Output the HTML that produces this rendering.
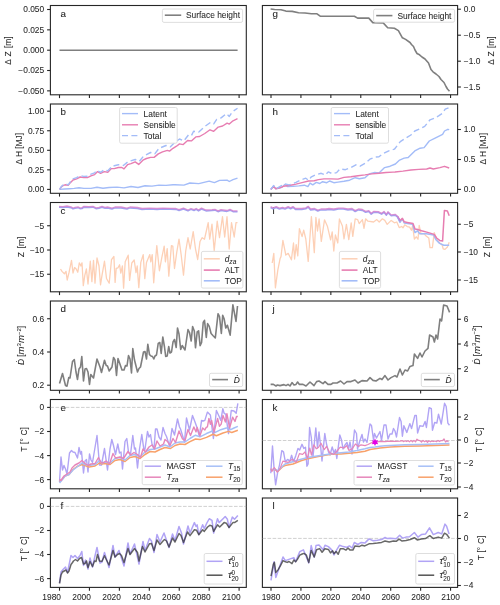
<!DOCTYPE html>
<html><head><meta charset="utf-8"><style>
html,body{margin:0;padding:0;background:#fff;width:500px;height:605px;overflow:hidden}
svg{display:block;will-change:transform}
.t{font-family:"Liberation Sans",sans-serif;font-size:8.4px;fill:#262626;stroke:#262626;stroke-width:0.06px}
.lt{font-family:"Liberation Sans",sans-serif;font-size:9.8px;fill:#262626;stroke:#262626;stroke-width:0.08px}
</style></head><body>
<svg width="500" height="605" viewBox="0 0 500 605">
<rect width="500" height="605" fill="#fff"/>
<rect x="50.4" y="5.5" width="195.90" height="89.30" fill="none" stroke="#262626" stroke-width="1.1"/>
<rect x="262.4" y="5.5" width="195.20" height="89.30" fill="none" stroke="#262626" stroke-width="1.1"/>
<line x1="59.50" y1="94.80" x2="59.50" y2="98.10" stroke="#262626" stroke-width="1.1"/>
<line x1="89.43" y1="94.80" x2="89.43" y2="98.10" stroke="#262626" stroke-width="1.1"/>
<line x1="119.37" y1="94.80" x2="119.37" y2="98.10" stroke="#262626" stroke-width="1.1"/>
<line x1="149.30" y1="94.80" x2="149.30" y2="98.10" stroke="#262626" stroke-width="1.1"/>
<line x1="179.24" y1="94.80" x2="179.24" y2="98.10" stroke="#262626" stroke-width="1.1"/>
<line x1="209.17" y1="94.80" x2="209.17" y2="98.10" stroke="#262626" stroke-width="1.1"/>
<line x1="239.10" y1="94.80" x2="239.10" y2="98.10" stroke="#262626" stroke-width="1.1"/>
<line x1="271.00" y1="94.80" x2="271.00" y2="98.10" stroke="#262626" stroke-width="1.1"/>
<line x1="300.93" y1="94.80" x2="300.93" y2="98.10" stroke="#262626" stroke-width="1.1"/>
<line x1="330.85" y1="94.80" x2="330.85" y2="98.10" stroke="#262626" stroke-width="1.1"/>
<line x1="360.78" y1="94.80" x2="360.78" y2="98.10" stroke="#262626" stroke-width="1.1"/>
<line x1="390.70" y1="94.80" x2="390.70" y2="98.10" stroke="#262626" stroke-width="1.1"/>
<line x1="420.63" y1="94.80" x2="420.63" y2="98.10" stroke="#262626" stroke-width="1.1"/>
<line x1="450.56" y1="94.80" x2="450.56" y2="98.10" stroke="#262626" stroke-width="1.1"/>
<rect x="50.4" y="104.0" width="195.90" height="89.30" fill="none" stroke="#262626" stroke-width="1.1"/>
<rect x="262.4" y="104.0" width="195.20" height="89.30" fill="none" stroke="#262626" stroke-width="1.1"/>
<line x1="59.50" y1="193.30" x2="59.50" y2="196.60" stroke="#262626" stroke-width="1.1"/>
<line x1="89.43" y1="193.30" x2="89.43" y2="196.60" stroke="#262626" stroke-width="1.1"/>
<line x1="119.37" y1="193.30" x2="119.37" y2="196.60" stroke="#262626" stroke-width="1.1"/>
<line x1="149.30" y1="193.30" x2="149.30" y2="196.60" stroke="#262626" stroke-width="1.1"/>
<line x1="179.24" y1="193.30" x2="179.24" y2="196.60" stroke="#262626" stroke-width="1.1"/>
<line x1="209.17" y1="193.30" x2="209.17" y2="196.60" stroke="#262626" stroke-width="1.1"/>
<line x1="239.10" y1="193.30" x2="239.10" y2="196.60" stroke="#262626" stroke-width="1.1"/>
<line x1="271.00" y1="193.30" x2="271.00" y2="196.60" stroke="#262626" stroke-width="1.1"/>
<line x1="300.93" y1="193.30" x2="300.93" y2="196.60" stroke="#262626" stroke-width="1.1"/>
<line x1="330.85" y1="193.30" x2="330.85" y2="196.60" stroke="#262626" stroke-width="1.1"/>
<line x1="360.78" y1="193.30" x2="360.78" y2="196.60" stroke="#262626" stroke-width="1.1"/>
<line x1="390.70" y1="193.30" x2="390.70" y2="196.60" stroke="#262626" stroke-width="1.1"/>
<line x1="420.63" y1="193.30" x2="420.63" y2="196.60" stroke="#262626" stroke-width="1.1"/>
<line x1="450.56" y1="193.30" x2="450.56" y2="196.60" stroke="#262626" stroke-width="1.1"/>
<rect x="50.4" y="202.5" width="195.90" height="89.30" fill="none" stroke="#262626" stroke-width="1.1"/>
<rect x="262.4" y="202.5" width="195.20" height="89.30" fill="none" stroke="#262626" stroke-width="1.1"/>
<line x1="59.50" y1="291.80" x2="59.50" y2="295.10" stroke="#262626" stroke-width="1.1"/>
<line x1="89.43" y1="291.80" x2="89.43" y2="295.10" stroke="#262626" stroke-width="1.1"/>
<line x1="119.37" y1="291.80" x2="119.37" y2="295.10" stroke="#262626" stroke-width="1.1"/>
<line x1="149.30" y1="291.80" x2="149.30" y2="295.10" stroke="#262626" stroke-width="1.1"/>
<line x1="179.24" y1="291.80" x2="179.24" y2="295.10" stroke="#262626" stroke-width="1.1"/>
<line x1="209.17" y1="291.80" x2="209.17" y2="295.10" stroke="#262626" stroke-width="1.1"/>
<line x1="239.10" y1="291.80" x2="239.10" y2="295.10" stroke="#262626" stroke-width="1.1"/>
<line x1="271.00" y1="291.80" x2="271.00" y2="295.10" stroke="#262626" stroke-width="1.1"/>
<line x1="300.93" y1="291.80" x2="300.93" y2="295.10" stroke="#262626" stroke-width="1.1"/>
<line x1="330.85" y1="291.80" x2="330.85" y2="295.10" stroke="#262626" stroke-width="1.1"/>
<line x1="360.78" y1="291.80" x2="360.78" y2="295.10" stroke="#262626" stroke-width="1.1"/>
<line x1="390.70" y1="291.80" x2="390.70" y2="295.10" stroke="#262626" stroke-width="1.1"/>
<line x1="420.63" y1="291.80" x2="420.63" y2="295.10" stroke="#262626" stroke-width="1.1"/>
<line x1="450.56" y1="291.80" x2="450.56" y2="295.10" stroke="#262626" stroke-width="1.1"/>
<rect x="50.4" y="301.0" width="195.90" height="89.30" fill="none" stroke="#262626" stroke-width="1.1"/>
<rect x="262.4" y="301.0" width="195.20" height="89.30" fill="none" stroke="#262626" stroke-width="1.1"/>
<line x1="59.50" y1="390.30" x2="59.50" y2="393.60" stroke="#262626" stroke-width="1.1"/>
<line x1="89.43" y1="390.30" x2="89.43" y2="393.60" stroke="#262626" stroke-width="1.1"/>
<line x1="119.37" y1="390.30" x2="119.37" y2="393.60" stroke="#262626" stroke-width="1.1"/>
<line x1="149.30" y1="390.30" x2="149.30" y2="393.60" stroke="#262626" stroke-width="1.1"/>
<line x1="179.24" y1="390.30" x2="179.24" y2="393.60" stroke="#262626" stroke-width="1.1"/>
<line x1="209.17" y1="390.30" x2="209.17" y2="393.60" stroke="#262626" stroke-width="1.1"/>
<line x1="239.10" y1="390.30" x2="239.10" y2="393.60" stroke="#262626" stroke-width="1.1"/>
<line x1="271.00" y1="390.30" x2="271.00" y2="393.60" stroke="#262626" stroke-width="1.1"/>
<line x1="300.93" y1="390.30" x2="300.93" y2="393.60" stroke="#262626" stroke-width="1.1"/>
<line x1="330.85" y1="390.30" x2="330.85" y2="393.60" stroke="#262626" stroke-width="1.1"/>
<line x1="360.78" y1="390.30" x2="360.78" y2="393.60" stroke="#262626" stroke-width="1.1"/>
<line x1="390.70" y1="390.30" x2="390.70" y2="393.60" stroke="#262626" stroke-width="1.1"/>
<line x1="420.63" y1="390.30" x2="420.63" y2="393.60" stroke="#262626" stroke-width="1.1"/>
<line x1="450.56" y1="390.30" x2="450.56" y2="393.60" stroke="#262626" stroke-width="1.1"/>
<rect x="50.4" y="399.5" width="195.90" height="89.30" fill="none" stroke="#262626" stroke-width="1.1"/>
<rect x="262.4" y="399.5" width="195.20" height="89.30" fill="none" stroke="#262626" stroke-width="1.1"/>
<line x1="59.50" y1="488.80" x2="59.50" y2="492.10" stroke="#262626" stroke-width="1.1"/>
<line x1="89.43" y1="488.80" x2="89.43" y2="492.10" stroke="#262626" stroke-width="1.1"/>
<line x1="119.37" y1="488.80" x2="119.37" y2="492.10" stroke="#262626" stroke-width="1.1"/>
<line x1="149.30" y1="488.80" x2="149.30" y2="492.10" stroke="#262626" stroke-width="1.1"/>
<line x1="179.24" y1="488.80" x2="179.24" y2="492.10" stroke="#262626" stroke-width="1.1"/>
<line x1="209.17" y1="488.80" x2="209.17" y2="492.10" stroke="#262626" stroke-width="1.1"/>
<line x1="239.10" y1="488.80" x2="239.10" y2="492.10" stroke="#262626" stroke-width="1.1"/>
<line x1="271.00" y1="488.80" x2="271.00" y2="492.10" stroke="#262626" stroke-width="1.1"/>
<line x1="300.93" y1="488.80" x2="300.93" y2="492.10" stroke="#262626" stroke-width="1.1"/>
<line x1="330.85" y1="488.80" x2="330.85" y2="492.10" stroke="#262626" stroke-width="1.1"/>
<line x1="360.78" y1="488.80" x2="360.78" y2="492.10" stroke="#262626" stroke-width="1.1"/>
<line x1="390.70" y1="488.80" x2="390.70" y2="492.10" stroke="#262626" stroke-width="1.1"/>
<line x1="420.63" y1="488.80" x2="420.63" y2="492.10" stroke="#262626" stroke-width="1.1"/>
<line x1="450.56" y1="488.80" x2="450.56" y2="492.10" stroke="#262626" stroke-width="1.1"/>
<rect x="50.4" y="498.0" width="195.90" height="89.40" fill="none" stroke="#262626" stroke-width="1.1"/>
<rect x="262.4" y="498.0" width="195.20" height="89.40" fill="none" stroke="#262626" stroke-width="1.1"/>
<line x1="59.50" y1="587.40" x2="59.50" y2="590.70" stroke="#262626" stroke-width="1.1"/>
<text x="61.00" y="600" text-anchor="end" class="t">1980</text>
<line x1="89.43" y1="587.40" x2="89.43" y2="590.70" stroke="#262626" stroke-width="1.1"/>
<text x="90.93" y="600" text-anchor="end" class="t">2000</text>
<line x1="119.37" y1="587.40" x2="119.37" y2="590.70" stroke="#262626" stroke-width="1.1"/>
<text x="120.87" y="600" text-anchor="end" class="t">2020</text>
<line x1="149.30" y1="587.40" x2="149.30" y2="590.70" stroke="#262626" stroke-width="1.1"/>
<text x="150.80" y="600" text-anchor="end" class="t">2040</text>
<line x1="179.24" y1="587.40" x2="179.24" y2="590.70" stroke="#262626" stroke-width="1.1"/>
<text x="180.74" y="600" text-anchor="end" class="t">2060</text>
<line x1="209.17" y1="587.40" x2="209.17" y2="590.70" stroke="#262626" stroke-width="1.1"/>
<text x="210.67" y="600" text-anchor="end" class="t">2080</text>
<line x1="239.10" y1="587.40" x2="239.10" y2="590.70" stroke="#262626" stroke-width="1.1"/>
<text x="240.60" y="600" text-anchor="end" class="t">2100</text>
<line x1="271.00" y1="587.40" x2="271.00" y2="590.70" stroke="#262626" stroke-width="1.1"/>
<text x="271.00" y="600" text-anchor="middle" class="t">1980</text>
<line x1="300.93" y1="587.40" x2="300.93" y2="590.70" stroke="#262626" stroke-width="1.1"/>
<text x="300.93" y="600" text-anchor="middle" class="t">2000</text>
<line x1="330.85" y1="587.40" x2="330.85" y2="590.70" stroke="#262626" stroke-width="1.1"/>
<text x="330.85" y="600" text-anchor="middle" class="t">2020</text>
<line x1="360.78" y1="587.40" x2="360.78" y2="590.70" stroke="#262626" stroke-width="1.1"/>
<text x="360.78" y="600" text-anchor="middle" class="t">2040</text>
<line x1="390.70" y1="587.40" x2="390.70" y2="590.70" stroke="#262626" stroke-width="1.1"/>
<text x="390.70" y="600" text-anchor="middle" class="t">2060</text>
<line x1="420.63" y1="587.40" x2="420.63" y2="590.70" stroke="#262626" stroke-width="1.1"/>
<text x="420.63" y="600" text-anchor="middle" class="t">2080</text>
<line x1="450.56" y1="587.40" x2="450.56" y2="590.70" stroke="#262626" stroke-width="1.1"/>
<text x="450.56" y="600" text-anchor="middle" class="t">2100</text>
<line x1="47.10" y1="9.50" x2="50.40" y2="9.50" stroke="#262626" stroke-width="1.1"/>
<text x="44.20" y="12.40" text-anchor="end" class="t">0.050</text>
<line x1="47.10" y1="29.85" x2="50.40" y2="29.85" stroke="#262626" stroke-width="1.1"/>
<text x="44.20" y="32.75" text-anchor="end" class="t">0.025</text>
<line x1="47.10" y1="50.20" x2="50.40" y2="50.20" stroke="#262626" stroke-width="1.1"/>
<text x="44.20" y="53.10" text-anchor="end" class="t">0.000</text>
<line x1="47.10" y1="70.50" x2="50.40" y2="70.50" stroke="#262626" stroke-width="1.1"/>
<text x="44.20" y="73.40" text-anchor="end" class="t">−0.025</text>
<line x1="47.10" y1="90.85" x2="50.40" y2="90.85" stroke="#262626" stroke-width="1.1"/>
<text x="44.20" y="93.75" text-anchor="end" class="t">−0.050</text>
<line x1="457.60" y1="9.20" x2="460.90" y2="9.20" stroke="#262626" stroke-width="1.1"/>
<text x="463.80" y="12.10" text-anchor="start" class="t">0.0</text>
<line x1="457.60" y1="35.20" x2="460.90" y2="35.20" stroke="#262626" stroke-width="1.1"/>
<text x="463.80" y="38.10" text-anchor="start" class="t">−0.5</text>
<line x1="457.60" y1="61.20" x2="460.90" y2="61.20" stroke="#262626" stroke-width="1.1"/>
<text x="463.80" y="64.10" text-anchor="start" class="t">−1.0</text>
<line x1="457.60" y1="87.00" x2="460.90" y2="87.00" stroke="#262626" stroke-width="1.1"/>
<text x="463.80" y="89.90" text-anchor="start" class="t">−1.5</text>
<line x1="47.10" y1="111.20" x2="50.40" y2="111.20" stroke="#262626" stroke-width="1.1"/>
<text x="44.20" y="114.10" text-anchor="end" class="t">1.00</text>
<line x1="47.10" y1="130.75" x2="50.40" y2="130.75" stroke="#262626" stroke-width="1.1"/>
<text x="44.20" y="133.65" text-anchor="end" class="t">0.75</text>
<line x1="47.10" y1="150.30" x2="50.40" y2="150.30" stroke="#262626" stroke-width="1.1"/>
<text x="44.20" y="153.20" text-anchor="end" class="t">0.50</text>
<line x1="47.10" y1="169.85" x2="50.40" y2="169.85" stroke="#262626" stroke-width="1.1"/>
<text x="44.20" y="172.75" text-anchor="end" class="t">0.25</text>
<line x1="47.10" y1="189.40" x2="50.40" y2="189.40" stroke="#262626" stroke-width="1.1"/>
<text x="44.20" y="192.30" text-anchor="end" class="t">0.00</text>
<line x1="457.60" y1="129.50" x2="460.90" y2="129.50" stroke="#262626" stroke-width="1.1"/>
<text x="463.80" y="132.40" text-anchor="start" class="t">1.0</text>
<line x1="457.60" y1="159.50" x2="460.90" y2="159.50" stroke="#262626" stroke-width="1.1"/>
<text x="463.80" y="162.40" text-anchor="start" class="t">0.5</text>
<line x1="457.60" y1="189.40" x2="460.90" y2="189.40" stroke="#262626" stroke-width="1.1"/>
<text x="463.80" y="192.30" text-anchor="start" class="t">0.0</text>
<line x1="47.10" y1="225.75" x2="50.40" y2="225.75" stroke="#262626" stroke-width="1.1"/>
<text x="44.20" y="228.65" text-anchor="end" class="t">−5</text>
<line x1="47.10" y1="250.00" x2="50.40" y2="250.00" stroke="#262626" stroke-width="1.1"/>
<text x="44.20" y="252.90" text-anchor="end" class="t">−10</text>
<line x1="47.10" y1="274.25" x2="50.40" y2="274.25" stroke="#262626" stroke-width="1.1"/>
<text x="44.20" y="277.15" text-anchor="end" class="t">−15</text>
<line x1="457.60" y1="224.25" x2="460.90" y2="224.25" stroke="#262626" stroke-width="1.1"/>
<text x="463.80" y="227.15" text-anchor="start" class="t">−5</text>
<line x1="457.60" y1="252.00" x2="460.90" y2="252.00" stroke="#262626" stroke-width="1.1"/>
<text x="463.80" y="254.90" text-anchor="start" class="t">−10</text>
<line x1="457.60" y1="280.00" x2="460.90" y2="280.00" stroke="#262626" stroke-width="1.1"/>
<text x="463.80" y="282.90" text-anchor="start" class="t">−15</text>
<line x1="47.10" y1="318.75" x2="50.40" y2="318.75" stroke="#262626" stroke-width="1.1"/>
<text x="44.20" y="321.65" text-anchor="end" class="t">0.6</text>
<line x1="47.10" y1="352.00" x2="50.40" y2="352.00" stroke="#262626" stroke-width="1.1"/>
<text x="44.20" y="354.90" text-anchor="end" class="t">0.4</text>
<line x1="47.10" y1="385.20" x2="50.40" y2="385.20" stroke="#262626" stroke-width="1.1"/>
<text x="44.20" y="388.10" text-anchor="end" class="t">0.2</text>
<line x1="457.60" y1="319.25" x2="460.90" y2="319.25" stroke="#262626" stroke-width="1.1"/>
<text x="463.80" y="322.15" text-anchor="start" class="t">6</text>
<line x1="457.60" y1="344.00" x2="460.90" y2="344.00" stroke="#262626" stroke-width="1.1"/>
<text x="463.80" y="346.90" text-anchor="start" class="t">4</text>
<line x1="457.60" y1="368.75" x2="460.90" y2="368.75" stroke="#262626" stroke-width="1.1"/>
<text x="463.80" y="371.65" text-anchor="start" class="t">2</text>
<line x1="47.10" y1="407.40" x2="50.40" y2="407.40" stroke="#262626" stroke-width="1.1"/>
<text x="44.20" y="410.30" text-anchor="end" class="t">0</text>
<line x1="47.10" y1="431.50" x2="50.40" y2="431.50" stroke="#262626" stroke-width="1.1"/>
<text x="44.20" y="434.40" text-anchor="end" class="t">−2</text>
<line x1="47.10" y1="455.60" x2="50.40" y2="455.60" stroke="#262626" stroke-width="1.1"/>
<text x="44.20" y="458.50" text-anchor="end" class="t">−4</text>
<line x1="47.10" y1="479.60" x2="50.40" y2="479.60" stroke="#262626" stroke-width="1.1"/>
<text x="44.20" y="482.50" text-anchor="end" class="t">−6</text>
<line x1="457.60" y1="417.00" x2="460.90" y2="417.00" stroke="#262626" stroke-width="1.1"/>
<text x="463.80" y="419.90" text-anchor="start" class="t">2</text>
<line x1="457.60" y1="440.00" x2="460.90" y2="440.00" stroke="#262626" stroke-width="1.1"/>
<text x="463.80" y="442.90" text-anchor="start" class="t">0</text>
<line x1="457.60" y1="463.00" x2="460.90" y2="463.00" stroke="#262626" stroke-width="1.1"/>
<text x="463.80" y="465.90" text-anchor="start" class="t">−2</text>
<line x1="457.60" y1="487.00" x2="460.90" y2="487.00" stroke="#262626" stroke-width="1.1"/>
<text x="463.80" y="489.90" text-anchor="start" class="t">−4</text>
<line x1="47.10" y1="506.40" x2="50.40" y2="506.40" stroke="#262626" stroke-width="1.1"/>
<text x="44.20" y="509.30" text-anchor="end" class="t">0</text>
<line x1="47.10" y1="530.50" x2="50.40" y2="530.50" stroke="#262626" stroke-width="1.1"/>
<text x="44.20" y="533.40" text-anchor="end" class="t">−2</text>
<line x1="47.10" y1="554.50" x2="50.40" y2="554.50" stroke="#262626" stroke-width="1.1"/>
<text x="44.20" y="557.40" text-anchor="end" class="t">−4</text>
<line x1="47.10" y1="578.60" x2="50.40" y2="578.60" stroke="#262626" stroke-width="1.1"/>
<text x="44.20" y="581.50" text-anchor="end" class="t">−6</text>
<line x1="457.60" y1="515.50" x2="460.90" y2="515.50" stroke="#262626" stroke-width="1.1"/>
<text x="463.80" y="518.40" text-anchor="start" class="t">2</text>
<line x1="457.60" y1="538.50" x2="460.90" y2="538.50" stroke="#262626" stroke-width="1.1"/>
<text x="463.80" y="541.40" text-anchor="start" class="t">0</text>
<line x1="457.60" y1="562.50" x2="460.90" y2="562.50" stroke="#262626" stroke-width="1.1"/>
<text x="463.80" y="565.40" text-anchor="start" class="t">−2</text>
<line x1="457.60" y1="585.50" x2="460.90" y2="585.50" stroke="#262626" stroke-width="1.1"/>
<text x="463.80" y="588.40" text-anchor="start" class="t">−4</text>
<text transform="translate(10.60,50.60) rotate(-90)" text-anchor="middle" class="t" word-spacing="1.0">Δ Z [m]</text>
<text transform="translate(22.00,148.75) rotate(-90)" text-anchor="middle" class="t">Δ H [MJ]</text>
<text transform="translate(23.50,247.00) rotate(-90)" text-anchor="middle" class="t" word-spacing="1.6">Z [m]</text>
<text transform="translate(24.10,345.50) rotate(-90)" text-anchor="middle" class="t"><tspan font-style="italic">Ḋ</tspan> [<tspan font-style="italic" font-size="9.6">m</tspan><tspan font-size="6" dy="-3.4">3</tspan><tspan dy="3.4" font-style="italic" font-size="9.6">m</tspan><tspan font-size="6" dy="-3.4">−2</tspan><tspan dy="3.4">]</tspan></text>
<text transform="translate(27.00,439.40) rotate(-90)" text-anchor="middle" class="t" word-spacing="0.5">T [° C]</text>
<text transform="translate(27.00,549.00) rotate(-90)" text-anchor="middle" class="t" word-spacing="0.5">T [° C]</text>
<text transform="translate(494.40,50.60) rotate(-90)" text-anchor="middle" class="t" word-spacing="1.0">Δ Z [m]</text>
<text transform="translate(486.00,148.75) rotate(-90)" text-anchor="middle" class="t">Δ H [MJ]</text>
<text transform="translate(490.00,247.00) rotate(-90)" text-anchor="middle" class="t" word-spacing="1.6">Z [m]</text>
<text transform="translate(479.50,345.00) rotate(-90)" text-anchor="middle" class="t"><tspan font-style="italic">Ḋ</tspan> [<tspan font-style="italic" font-size="9.6">m</tspan><tspan font-size="6" dy="-3.4">3</tspan><tspan dy="3.4" font-style="italic" font-size="9.6">m</tspan><tspan font-size="6" dy="-3.4">−2</tspan><tspan dy="3.4">]</tspan></text>
<text transform="translate(482.30,440.00) rotate(-90)" text-anchor="middle" class="t" word-spacing="0.5">T [° C]</text>
<text transform="translate(484.20,548.00) rotate(-90)" text-anchor="middle" class="t" word-spacing="0.5">T [° C]</text>
<text x="60.60" y="16.90" class="lt">a</text>
<text x="60.60" y="115.40" class="lt">b</text>
<text x="60.60" y="213.90" class="lt">c</text>
<text x="60.60" y="312.40" class="lt">d</text>
<text x="60.60" y="410.90" class="lt">e</text>
<text x="60.60" y="509.40" class="lt">f</text>
<text x="272.60" y="16.90" class="lt">g</text>
<text x="272.60" y="115.40" class="lt">h</text>
<text x="272.60" y="213.90" class="lt">i</text>
<text x="272.60" y="312.40" class="lt">j</text>
<text x="272.60" y="410.90" class="lt">k</text>
<text x="272.60" y="509.40" class="lt">l</text>
<polyline points="59.50,50.20 237.60,50.20" fill="none" stroke="#7f7f7f" stroke-width="1.6" stroke-linejoin="round" stroke-linecap="butt"/>
<rect x="162.40" y="9.00" width="80.20" height="13.40" rx="1.6" ry="1.6" fill="#fff" fill-opacity="0.8" stroke="#dadada" stroke-width="0.9"/>
<line x1="164.80" y1="15.20" x2="181.20" y2="15.20" stroke="#7f7f7f" stroke-width="1.6"/>
<text x="186.00" y="18.10" class="t">Surface height</text>
<polyline points="270.60,9.00 274.60,9.50 281.00,9.80 285.80,11.10 292.20,11.40 298.60,12.70 305.00,13.00 311.40,13.80 317.00,13.80 320.20,16.20 354.40,16.20 357.60,18.10 368.80,18.10 372.80,22.60 383.20,22.90 387.70,27.70 394.40,28.20 398.40,30.60 402.40,37.80 405.60,39.40 410.00,42.50 411.50,44.50 413.50,46.50 415.00,50.00 417.00,53.50 419.50,54.80 422.00,57.00 425.00,59.00 428.50,63.00 431.00,69.50 433.00,71.80 436.00,74.00 439.00,76.50 441.00,79.50 444.00,82.50 446.00,86.50 447.50,89.00 449.50,91.20" fill="none" stroke="#7f7f7f" stroke-width="1.6" stroke-linejoin="round" stroke-linecap="butt"/>
<rect x="373.60" y="9.20" width="81.00" height="13.00" rx="1.6" ry="1.6" fill="#fff" fill-opacity="0.8" stroke="#dadada" stroke-width="0.9"/>
<line x1="376.20" y1="15.60" x2="392.40" y2="15.60" stroke="#7f7f7f" stroke-width="1.6"/>
<text x="397.40" y="18.50" class="t">Surface height</text>
<polyline points="59.60,189.40 64.60,189.00 69.40,188.70 74.20,188.40 79.00,187.80 83.80,188.40 91.00,188.40 97.00,187.20 103.00,188.20 109.00,187.50 117.00,187.10 124.00,187.90 131.00,186.50 138.00,187.50 145.00,185.70 152.00,186.10 159.00,185.10 166.00,185.40 173.00,184.70 175.00,184.80 183.90,185.10 189.90,183.00 198.80,183.60 209.20,181.10 214.40,182.60 219.60,180.40 227.10,180.10 229.30,181.50 233.00,179.60 237.50,178.10" fill="none" stroke="#a3bcf8" stroke-width="1.4" stroke-linejoin="round" stroke-linecap="butt"/>
<polyline points="59.60,189.40 61.60,186.60 63.40,185.40 65.80,184.80 68.20,185.40 70.60,182.40 73.00,180.00 76.60,178.80 80.20,177.00 83.80,177.60 87.40,177.60 91.00,175.80 94.60,174.60 97.60,171.60 100.60,173.40 104.20,171.60 107.80,172.20 111.40,168.60 114.20,168.60 118.40,167.50 121.90,167.50 124.00,168.90 127.50,164.70 131.00,163.70 135.20,161.90 138.70,164.40 142.90,160.20 146.40,158.50 150.60,157.40 154.10,157.40 158.30,153.90 162.50,151.80 167.40,150.40 169.50,151.10 173.00,148.30 176.50,146.20 179.50,143.90 183.20,144.60 187.60,140.50 191.40,140.90 195.80,136.90 199.60,136.50 204.80,133.50 210.00,129.80 213.70,131.30 218.20,127.10 222.60,126.00 227.10,123.10 229.30,124.10 233.00,120.80 237.50,118.60" fill="none" stroke="#e77db1" stroke-width="1.4" stroke-linejoin="round" stroke-linecap="butt"/>
<polyline points="59.60,189.40 61.60,186.20 63.40,184.80 65.80,183.80 68.20,184.80 70.60,181.40 73.00,178.80 76.60,177.60 80.20,175.60 83.80,176.40 87.40,176.20 91.00,174.20 94.60,172.80 97.00,170.40 100.60,172.40 104.20,169.80 107.80,170.80 112.60,165.60 114.20,165.80 118.40,164.70 123.30,165.50 128.20,161.60 135.20,159.50 139.40,161.30 143.60,156.00 150.60,152.50 154.80,153.90 159.00,148.30 166.00,145.50 170.20,146.90 174.40,142.70 179.50,139.00 183.90,140.90 188.40,135.00 191.40,135.70 193.60,131.30 198.80,132.00 204.80,126.50 210.70,122.30 213.70,123.80 216.70,119.30 221.10,117.90 226.30,113.70 229.30,116.40 232.30,111.90 237.50,108.20" fill="none" stroke="#a3bcf8" stroke-width="1.4" stroke-linejoin="round" stroke-linecap="butt" stroke-dasharray="6,3.4"/>
<rect x="119.60" y="107.50" width="57.60" height="35.70" rx="1.6" ry="1.6" fill="#fff" fill-opacity="0.8" stroke="#dadada" stroke-width="0.9"/>
<line x1="122.00" y1="113.60" x2="138.00" y2="113.60" stroke="#a3bcf8" stroke-width="1.4"/>
<text x="143.60" y="116.50" class="t">Latent</text>
<line x1="122.00" y1="124.80" x2="138.00" y2="124.80" stroke="#e77db1" stroke-width="1.4"/>
<text x="143.60" y="127.70" class="t">Sensible</text>
<line x1="122.00" y1="135.60" x2="138.00" y2="135.60" stroke="#a3bcf8" stroke-width="1.4" stroke-dasharray="6,3.4"/>
<text x="143.60" y="138.50" class="t">Total</text>
<polyline points="270.80,189.40 273.60,185.90 275.70,188.70 282.00,187.30 284.80,184.50 287.60,186.60 293.20,186.30 298.80,185.90 304.40,185.20 307.90,186.60 310.00,183.10 312.80,184.90 316.30,182.40 319.80,183.50 322.60,181.70 326.80,182.70 329.60,181.00 333.80,182.70 338.00,182.10 344.00,181.30 349.60,180.20 355.20,177.70 359.40,178.80 365.00,177.70 369.20,173.90 374.80,172.50 379.00,172.90 384.60,167.60 390.20,166.20 395.40,164.00 399.60,160.10 404.20,158.10 408.20,157.50 414.80,150.90 420.10,148.20 424.10,147.60 429.30,141.00 434.60,138.30 438.60,136.30 442.60,134.30 444.50,131.00 447.80,129.30 449.20,129.70" fill="none" stroke="#a3bcf8" stroke-width="1.4" stroke-linejoin="round" stroke-linecap="butt"/>
<polyline points="270.80,189.40 273.60,186.60 275.70,188.70 279.20,188.00 283.40,186.30 289.00,185.50 296.00,184.10 303.00,182.40 308.60,181.00 314.20,180.70 318.40,179.60 324.00,178.90 331.00,178.90 338.00,179.10 344.00,177.40 351.00,176.70 358.00,175.70 365.00,174.90 372.00,173.90 379.00,173.20 386.00,172.50 393.00,172.10 395.00,172.00 402.90,171.10 410.90,170.00 418.80,169.40 426.70,169.00 430.00,168.00 433.30,169.00 439.90,167.60 444.50,166.30 449.20,168.00" fill="none" stroke="#e77db1" stroke-width="1.4" stroke-linejoin="round" stroke-linecap="butt"/>
<polyline points="270.80,189.40 273.60,185.60 276.40,188.70 282.00,185.20 284.80,183.80 289.00,184.90 296.00,182.40 301.60,179.60 305.80,178.20 308.60,180.30 311.40,176.80 315.60,174.70 321.20,173.30 325.40,175.10 328.20,171.90 332.40,173.70 336.60,172.60 339.80,169.00 345.40,169.70 351.00,167.60 355.90,164.80 360.10,166.20 365.00,163.40 369.90,159.20 374.80,157.10 379.00,156.70 383.20,153.60 388.80,150.80 394.40,149.20 400.30,141.60 405.60,138.30 410.90,135.00 414.80,131.00 419.40,129.10 424.70,126.40 430.00,119.80 434.60,118.20 438.60,115.90 442.60,113.20 445.20,109.20 448.50,107.90" fill="none" stroke="#a3bcf8" stroke-width="1.4" stroke-linejoin="round" stroke-linecap="butt" stroke-dasharray="6,3.4"/>
<rect x="331.20" y="107.50" width="57.30" height="35.70" rx="1.6" ry="1.6" fill="#fff" fill-opacity="0.8" stroke="#dadada" stroke-width="0.9"/>
<line x1="334.00" y1="113.60" x2="350.00" y2="113.60" stroke="#a3bcf8" stroke-width="1.4"/>
<text x="355.50" y="116.50" class="t">Latent</text>
<line x1="334.00" y1="124.80" x2="350.00" y2="124.80" stroke="#e77db1" stroke-width="1.4"/>
<text x="355.50" y="127.70" class="t">sensible</text>
<line x1="334.00" y1="135.60" x2="350.00" y2="135.60" stroke="#a3bcf8" stroke-width="1.4" stroke-dasharray="6,3.4"/>
<text x="355.50" y="138.50" class="t">Total</text>
<polyline points="60.50,269.00 62.00,271.40 64.40,273.80 66.00,271.40 67.20,280.00 69.10,272.20 71.50,260.40 73.00,273.00 74.60,267.50 76.20,269.00 77.80,272.20 79.30,262.80 80.90,266.00 82.00,262.80 83.30,285.60 84.80,275.40 86.40,269.00 88.00,284.00 90.30,261.20 91.90,281.60 93.50,260.40 95.00,283.20 97.00,258.00 99.00,266.00 100.50,284.80 102.00,275.40 104.50,261.20 106.50,278.50 109.20,283.20 111.50,259.70 113.90,256.50 115.10,282.40 116.20,268.40 118.00,267.80 119.60,264.80 120.80,273.20 122.40,266.00 123.60,288.20 125.20,261.80 128.20,255.20 129.60,280.40 131.80,263.00 134.20,260.00 136.00,272.60 137.20,266.00 138.80,287.60 140.80,262.40 143.20,254.60 144.80,278.60 146.50,262.40 149.80,254.60 150.80,261.80 152.20,254.60 153.70,282.80 156.80,245.60 159.40,270.80 161.80,257.60 164.20,246.20 165.40,261.80 167.20,248.60 168.80,276.20 171.40,245.60 172.80,246.00 174.50,268.50 176.70,252.70 179.00,239.20 181.20,255.00 183.50,275.20 185.70,251.20 188.00,237.70 190.20,249.00 193.20,231.70 195.50,249.00 197.70,259.50 200.00,241.50 202.20,237.70 204.50,239.20 206.00,232.50 208.20,222.70 209.70,239.20 212.00,224.20 214.20,250.50 217.20,221.20 219.50,237.70 222.50,216.70 224.70,237.00 227.00,216.70 229.20,249.00 231.50,222.70 234.20,237.00 236.00,222.70 237.50,222.70" fill="none" stroke="#fdd0b6" stroke-width="1.3" stroke-linejoin="round" stroke-linecap="butt"/>
<polyline points="59.00,207.20 63.00,207.50 67.00,206.90 71.00,207.70 73.00,208.90 75.00,208.20 78.00,207.70 80.00,208.70 82.00,208.50 84.00,207.20 89.00,207.50 93.00,207.20 96.00,208.70 99.00,208.20 102.00,207.20 105.00,208.20 107.50,207.90 112.00,209.00 115.00,207.90 121.00,207.90 127.00,209.00 130.00,207.90 137.50,208.40 142.00,209.40 149.50,209.00 157.00,209.40 163.00,209.00 170.50,209.20 176.00,209.40 179.00,210.50 183.50,209.00 188.00,210.90 191.00,209.40 194.00,210.50 196.20,209.40 198.50,210.90 201.50,209.00 206.00,210.90 212.00,210.50 215.00,210.20 218.00,211.70 221.00,210.50 227.00,211.40 230.00,210.20 233.00,211.70 237.50,211.70" fill="none" stroke="#9fa4f2" stroke-width="1.5" stroke-linejoin="round" stroke-linecap="butt"/>
<polyline points="59.00,206.30 63.00,206.60 67.00,206.00 71.00,206.80 73.00,208.00 75.00,207.30 78.00,206.80 80.00,207.80 82.00,207.60 84.00,206.30 89.00,206.60 93.00,206.30 96.00,207.80 99.00,207.30 102.00,206.30 105.00,207.30 107.50,207.00 112.00,208.10 115.00,207.00 121.00,207.00 127.00,208.10 130.00,207.00 137.50,207.50 142.00,208.50 149.50,208.10 157.00,208.50 163.00,208.10 170.50,208.30 176.00,208.50 179.00,209.60 183.50,208.10 188.00,210.00 191.00,208.50 194.00,209.60 196.20,208.50 198.50,210.00 201.50,208.10 206.00,210.00 212.00,209.60 215.00,209.30 218.00,210.80 221.00,209.60 227.00,210.50 230.00,209.30 233.00,210.80 237.50,210.80" fill="none" stroke="#d47ccc" stroke-width="1.3" stroke-linejoin="round" stroke-linecap="butt" stroke-opacity="0.8"/>
<rect x="201.40" y="251.40" width="41.50" height="36.70" rx="1.6" ry="1.6" fill="#fff" fill-opacity="0.8" stroke="#dadada" stroke-width="0.9"/>
<line x1="203.80" y1="258.80" x2="219.80" y2="258.80" stroke="#fdd0b6" stroke-width="1.5"/>
<text x="224.70" y="261.70" class="t"><tspan font-style="italic">d</tspan><tspan font-style="italic" font-size="6.6" dy="2">za</tspan></text>
<line x1="203.80" y1="270.10" x2="219.80" y2="270.10" stroke="#e77db1" stroke-width="1.6"/>
<text x="224.70" y="273.00" class="t">ALT</text>
<line x1="203.80" y1="280.80" x2="219.80" y2="280.80" stroke="#a3bcf8" stroke-width="1.6"/>
<text x="224.70" y="283.70" class="t">TOP</text>
<polyline points="272.20,263.00 273.80,253.40 275.40,287.80 277.80,270.20 280.20,258.20 281.00,256.60 282.90,240.30 285.80,255.00 288.20,253.40 291.40,259.80 293.50,243.00 294.60,259.00 296.20,244.60 297.80,255.80 299.40,228.60 302.10,236.60 303.70,230.20 305.80,239.00 308.20,261.40 311.40,216.60 314.30,252.60 315.90,217.40 317.50,231.00 319.10,219.00 321.30,241.40 324.50,219.80 327.40,226.20 330.60,239.80 332.20,231.80 333.80,251.00 335.40,235.00 337.80,243.00 339.40,219.00 342.40,226.00 344.00,238.80 346.40,224.40 348.80,239.60 351.20,222.80 352.80,236.40 355.20,218.80 357.60,219.60 359.20,223.60 362.40,219.60 364.00,228.40 365.60,218.80 368.00,221.20 373.60,222.00 376.80,219.60 379.20,222.00 382.40,218.80 384.80,220.40 387.20,224.40 391.20,220.40 394.40,222.80 396.80,222.00 399.20,227.60 401.60,226.50 403.00,227.80 404.80,224.80 407.20,226.60 409.60,227.20 411.40,230.20 412.60,226.00 414.40,239.20 416.20,236.80 418.00,239.20 419.20,225.40 421.00,233.80 424.00,233.80 426.40,236.20 428.80,238.00 430.00,247.60 432.40,247.60 434.20,232.60 437.20,240.40 440.20,243.40 442.00,244.60 443.20,248.80 445.00,249.40 447.40,247.00 449.20,242.20" fill="none" stroke="#fdd0b6" stroke-width="1.3" stroke-linejoin="round" stroke-linecap="butt"/>
<polyline points="397.60,217.10 400.00,222.40 402.40,218.80 404.20,223.00 412.60,224.20 415.00,232.60 417.40,230.80 419.80,233.80 426.40,233.80 433.60,235.00 436.00,239.80 439.60,243.40 443.80,245.20 449.20,245.20" fill="none" stroke="#a3bcf8" stroke-width="1.5" stroke-linejoin="round" stroke-linecap="butt"/>
<polyline points="397.60,216.40 400.00,220.60 402.40,218.40 404.20,221.80 407.20,222.40 413.00,223.60 415.00,229.00 418.00,229.60 421.60,230.80 427.60,232.40 434.20,234.40 436.60,238.00 439.60,240.40 442.60,241.00 444.40,210.40 447.40,211.00 449.20,215.80" fill="none" stroke="#e77db1" stroke-width="1.5" stroke-linejoin="round" stroke-linecap="butt"/>
<polyline points="270.60,207.50 273.00,208.80 276.20,207.50 279.40,209.10 282.60,208.30 285.00,209.10 288.20,207.50 290.60,208.80 293.00,207.50 295.40,209.40 301.80,209.40 305.80,208.80 308.20,207.20 310.60,209.90 314.60,209.40 317.80,211.00 321.00,209.90 325.80,209.90 329.00,209.40 333.80,209.90 338.60,209.10 343.20,209.10 348.00,209.90 352.00,209.40 355.20,211.50 358.40,209.90 362.40,210.40 365.60,212.30 368.80,211.50 371.20,214.20 373.60,212.30 378.40,212.60 381.60,214.20 384.00,212.30 386.40,215.20 388.00,212.60 391.20,215.80 395.20,215.20 397.60,217.10 400.00,221.30" fill="none" stroke="#9fa4f2" stroke-width="1.5" stroke-linejoin="round" stroke-linecap="butt"/>
<polyline points="270.60,206.60 273.00,207.90 276.20,206.60 279.40,208.20 282.60,207.40 285.00,208.20 288.20,206.60 290.60,207.90 293.00,206.60 295.40,208.50 301.80,208.50 305.80,207.90 308.20,206.30 310.60,209.00 314.60,208.50 317.80,210.10 321.00,209.00 325.80,209.00 329.00,208.50 333.80,209.00 338.60,208.20 343.20,208.20 348.00,209.00 352.00,208.50 355.20,210.60 358.40,209.00 362.40,209.50 365.60,211.40 368.80,210.60 371.20,213.30 373.60,211.40 378.40,211.70 381.60,213.30 384.00,211.40 386.40,214.30 388.00,211.70 391.20,214.90 395.20,214.30 397.60,216.20 400.00,220.40" fill="none" stroke="#d47ccc" stroke-width="1.3" stroke-linejoin="round" stroke-linecap="butt" stroke-opacity="0.8"/>
<rect x="339.40" y="251.40" width="41.20" height="36.70" rx="1.6" ry="1.6" fill="#fff" fill-opacity="0.8" stroke="#dadada" stroke-width="0.9"/>
<line x1="341.60" y1="258.80" x2="357.50" y2="258.80" stroke="#fdd0b6" stroke-width="1.5"/>
<text x="362.80" y="261.70" class="t"><tspan font-style="italic">d</tspan><tspan font-style="italic" font-size="6.6" dy="2">za</tspan></text>
<line x1="341.60" y1="270.10" x2="357.50" y2="270.10" stroke="#e77db1" stroke-width="1.6"/>
<text x="362.80" y="273.00" class="t">ALT</text>
<line x1="341.60" y1="280.80" x2="357.50" y2="280.80" stroke="#a3bcf8" stroke-width="1.6"/>
<text x="362.80" y="283.70" class="t">TOP</text>
<polyline points="59.50,383.50 62.50,373.50 65.50,385.50 67.00,386.20 68.80,377.50 70.00,378.00 72.50,361.50 74.30,359.50 76.00,372.00 77.50,379.50 79.00,369.00 80.50,367.00 81.80,356.50 83.50,381.00 85.00,369.00 86.50,368.50 88.00,372.00 89.50,384.50 90.80,374.50 93.50,378.00 97.00,359.00 100.00,367.00 101.50,372.50 104.50,360.20 106.20,365.50 107.50,366.00 109.20,371.00 112.00,367.00 113.50,357.50 115.00,360.00 116.50,375.50 118.00,358.50 122.00,370.00 124.00,370.00 125.50,365.50 127.00,366.00 128.50,355.50 130.00,359.00 131.50,373.00 132.80,348.50 134.50,360.00 137.50,372.00 139.00,368.50 140.50,367.00 143.50,352.00 145.00,351.50 146.50,359.00 147.80,344.20 149.50,354.70 151.00,356.00 152.50,356.50 153.80,359.00 155.00,356.00 156.50,355.00 158.20,343.50 159.80,342.50 161.20,353.50 162.80,337.00 164.50,347.00 165.70,356.50 167.20,356.00 168.70,346.50 170.00,353.00 171.50,352.00 173.00,342.00 174.50,339.50 176.20,347.50 177.50,328.00 179.00,334.00 180.70,349.50 182.20,345.50 185.00,350.00 188.00,329.50 189.50,332.50 191.20,341.00 192.60,326.50 194.30,331.00 195.50,347.80 197.20,331.90 198.60,330.80 200.10,345.60 201.60,342.30 203.20,322.50 204.50,320.30 206.30,337.40 207.60,323.60 209.25,326.40 211.10,333.50 213.10,335.70 215.30,337.90 218.05,313.70 219.50,316.50 221.35,333.50 222.70,315.40 224.10,318.70 225.75,328.00 227.40,325.25 230.15,335.15 232.90,304.90 236.00,321.40 237.50,306.00" fill="none" stroke="#7f7f7f" stroke-width="1.6" stroke-linejoin="round" stroke-linecap="butt"/>
<rect x="209.50" y="373.30" width="33.20" height="13.30" rx="1.6" ry="1.6" fill="#fff" fill-opacity="0.8" stroke="#dadada" stroke-width="0.9"/>
<line x1="212.20" y1="379.60" x2="228.00" y2="379.60" stroke="#7f7f7f" stroke-width="1.6"/>
<text x="233.80" y="382.50" class="t"><tspan font-style="italic">Ḋ</tspan></text>
<polyline points="270.60,384.40 273.40,384.40 276.00,386.00 277.40,385.00 280.00,385.60 284.00,384.60 286.00,385.60 288.00,384.40 290.00,386.00 292.00,382.60 294.00,385.00 296.00,384.40 297.60,382.00 299.40,384.40 303.00,384.40 306.00,386.00 310.00,382.00 314.00,385.60 316.60,381.60 319.00,381.00 323.00,383.60 325.00,381.60 328.00,384.40 331.00,384.40 333.00,383.00 337.00,383.00 340.60,381.00 344.00,384.00 347.00,381.60 351.00,381.60 355.00,380.00 358.00,383.00 360.50,381.50 362.00,380.60 367.00,381.00 370.00,377.60 373.00,380.40 376.00,381.00 380.00,378.40 382.00,379.60 385.00,375.60 388.00,380.00 391.00,377.60 395.00,375.60 397.00,377.00 400.00,369.00 402.40,375.00 405.00,370.00 407.60,371.00 410.00,366.40 413.00,365.60 414.40,354.00 417.60,358.40 420.00,353.00 422.00,357.00 425.00,351.00 428.00,348.40 429.60,335.00 433.00,337.00 434.40,342.00 436.00,335.00 437.60,339.00 440.00,319.00 441.60,321.00 443.60,305.00 447.00,306.00 449.60,312.40" fill="none" stroke="#7f7f7f" stroke-width="1.6" stroke-linejoin="round" stroke-linecap="butt"/>
<rect x="421.30" y="373.30" width="33.20" height="13.30" rx="1.6" ry="1.6" fill="#fff" fill-opacity="0.8" stroke="#dadada" stroke-width="0.9"/>
<line x1="424.00" y1="379.60" x2="439.80" y2="379.60" stroke="#7f7f7f" stroke-width="1.6"/>
<text x="445.60" y="382.50" class="t"><tspan font-style="italic">Ḋ</tspan></text>
<line x1="50.4" y1="407.4" x2="246.3" y2="407.4" stroke="#a0a0a0" stroke-width="0.5" stroke-dasharray="3.6,1.5"/>
<polyline points="59.50,482.00 61.00,457.00 62.50,470.00 64.00,465.50 65.50,469.00 67.00,474.00 69.50,453.00 71.50,450.50 73.00,452.00 75.00,452.50 77.50,458.00 79.00,447.50 80.50,454.00 81.50,451.50 83.50,473.00 85.00,461.00 86.50,459.50 88.00,472.00 89.50,454.00 91.00,460.00 92.50,462.50 97.00,435.50 99.50,465.00 101.50,465.00 104.50,448.50 107.50,470.00 110.00,449.00 111.80,439.50 113.50,445.50 115.50,454.50 117.80,444.00 119.50,453.00 121.00,452.00 122.50,469.00 125.00,441.50 126.80,438.50 128.50,452.00 130.50,454.50 132.80,435.50 134.50,449.00 135.50,448.00 137.50,468.00 139.50,449.00 141.80,434.50 144.00,450.50 145.00,449.00 147.50,431.50 149.00,437.00 150.50,434.50 152.00,444.00 154.00,449.00 155.50,429.00 157.00,429.00 159.00,437.00 161.00,440.00 163.00,427.50 165.00,433.50 166.50,436.50 169.50,446.00 172.00,428.50 174.50,435.00 177.50,419.00 179.50,427.00 180.50,429.00 184.50,442.00 186.50,418.00 189.50,430.00 192.50,415.50 195.00,422.00 197.15,428.00 199.35,436.30 201.55,420.40 203.20,421.00 204.85,420.40 207.40,412.10 210.35,414.90 213.40,438.50 216.40,410.50 219.15,416.50 220.80,420.40 222.80,408.80 224.10,413.20 225.75,414.30 228.50,433.55 231.25,410.50 234.00,411.00 236.20,413.20 237.85,403.30" fill="none" stroke="#b1a4f5" stroke-width="1.4" stroke-linejoin="round" stroke-linecap="butt"/>
<polyline points="59.50,481.50 62.00,479.50 65.00,476.00 69.00,474.50 73.00,469.50 77.00,466.50 82.00,464.50 85.00,465.50 89.00,467.00 95.00,466.00 99.50,463.00 102.00,464.00 105.00,463.50 110.00,464.50 115.00,460.50 120.00,459.50 125.00,461.50 130.00,457.50 135.00,456.50 140.00,458.50 145.00,454.50 150.00,451.50 155.00,452.00 160.00,449.50 165.00,447.50 170.50,448.50 175.00,445.50 180.00,444.00 185.00,444.50 190.00,441.60 195.50,439.00 199.90,439.60 206.50,437.40 213.10,434.30 216.40,435.75 223.00,433.00 228.50,431.35 231.80,432.45 237.85,430.25" fill="none" stroke="#f8a16a" stroke-width="1.5" stroke-linejoin="round" stroke-linecap="butt"/>
<polyline points="59.50,483.00 62.00,480.00 65.00,476.00 69.00,474.50 73.00,470.00 77.00,467.00 82.00,463.00 85.00,464.50 89.00,465.50 95.00,464.50 99.50,460.50 102.00,463.00 105.00,462.00 110.00,463.00 115.00,458.50 120.00,457.50 125.00,460.00 130.00,455.50 135.00,454.50 140.00,457.00 145.00,452.00 150.00,449.50 155.00,449.00 160.00,447.00 165.00,445.00 170.00,447.00 175.00,443.00 180.00,442.00 185.00,442.00 190.00,438.50 195.50,435.20 199.90,436.85 206.50,433.55 213.10,430.80 215.30,432.45 220.80,429.70 226.30,428.00 228.50,428.00 230.70,429.70 234.00,428.00 237.85,426.40" fill="none" stroke="#a6bff7" stroke-width="1.5" stroke-linejoin="round" stroke-linecap="butt"/>
<polyline points="59.50,479.50 61.00,480.50 64.00,476.00 67.00,474.00 70.00,472.00 72.00,468.00 75.00,465.00 79.00,463.00 82.00,460.50 85.00,463.50 88.00,465.50 91.00,464.00 95.00,463.50 98.50,457.50 101.00,462.50 103.00,463.00 106.00,461.00 109.50,464.00 113.00,453.50 115.50,458.00 120.00,457.00 123.50,458.50 128.00,451.50 130.50,455.00 134.00,452.50 137.50,454.50 140.50,457.50 143.00,449.00 145.50,452.00 149.00,447.00 152.00,445.00 154.50,449.00 157.00,441.00 160.00,446.00 163.50,444.00 165.00,439.50 167.50,441.50 170.00,445.50 173.00,438.50 175.50,442.50 179.00,431.00 182.50,439.00 185.00,440.50 188.00,429.50 190.50,435.50 193.85,427.00 196.05,431.90 197.15,427.50 199.90,435.75 202.65,428.00 204.85,430.00 206.20,427.40 207.40,426.80 208.90,418.40 210.40,424.40 211.60,420.50 214.00,432.20 217.60,418.40 219.40,426.20 221.20,424.10 223.00,415.40 225.40,422.00 226.90,413.60 229.60,428.00 232.60,417.20 235.00,421.50 236.50,416.50 237.85,416.50" fill="none" stroke="#e686ba" stroke-width="1.4" stroke-linejoin="round" stroke-linecap="butt"/>
<rect x="142.20" y="460.50" width="100.10" height="24.20" rx="1.6" ry="1.6" fill="#fff" fill-opacity="0.8" stroke="#dadada" stroke-width="0.9"/>
<line x1="144.80" y1="466.20" x2="160.90" y2="466.20" stroke="#b1a4f5" stroke-width="1.5"/>
<text x="166.40" y="469.10" class="t">MAGST</text>
<line x1="144.80" y1="477.20" x2="160.90" y2="477.20" stroke="#e686ba" stroke-width="1.5"/>
<text x="166.40" y="480.10" class="t"><tspan font-style="italic">T</tspan><tspan font-style="italic" font-size="6.6" dy="2">za</tspan></text>
<line x1="206.00" y1="466.20" x2="222.50" y2="466.20" stroke="#a6bff7" stroke-width="1.5"/>
<text x="228.00" y="469.10" class="t"><tspan font-style="italic">T</tspan><tspan font-size="6.6" dy="2">15</tspan></text>
<line x1="206.00" y1="477.20" x2="222.50" y2="477.20" stroke="#f8a16a" stroke-width="1.5"/>
<text x="228.00" y="480.10" class="t"><tspan font-style="italic">T</tspan><tspan font-size="6.6" dy="2">20</tspan></text>
<line x1="262.4" y1="440.5" x2="457.6" y2="440.5" stroke="#a0a0a0" stroke-width="0.5" stroke-dasharray="3.6,1.5"/>
<polyline points="270.80,473.20 272.50,446.00 274.30,472.10 275.60,484.80 277.70,472.10 279.50,465.10 281.80,450.70 283.50,451.80 285.30,461.70 287.60,459.40 289.90,461.10 291.60,455.30 293.40,461.70 295.70,455.90 298.00,448.40 299.70,450.10 302.00,444.30 303.80,448.40 305.50,447.20 306.90,466.30 308.10,464.00 309.60,427.50 311.30,437.40 313.00,457.00 315.80,428.00 317.50,448.00 319.00,432.00 320.50,445.00 322.00,461.00 324.80,433.50 326.50,444.00 328.50,452.00 330.00,455.00 332.20,447.00 334.00,453.00 335.50,449.50 336.80,458.50 339.80,435.00 341.50,440.00 343.00,449.00 345.00,445.00 347.00,442.50 348.50,449.00 350.00,442.00 352.00,454.00 354.50,430.00 356.50,433.50 357.50,449.00 359.50,442.00 362.00,434.50 363.50,442.00 365.00,439.00 367.00,442.50 370.00,424.00 371.50,425.50 373.50,440.00 374.50,433.50 376.50,438.00 380.00,431.50 381.50,440.50 384.00,425.00 386.00,425.00 388.00,439.00 390.00,434.00 392.00,434.00 393.50,428.50 395.00,431.00 396.50,437.00 399.50,417.50 401.10,421.40 402.40,436.25 403.85,425.80 406.80,432.40 409.90,423.60 411.55,428.55 414.85,415.35 416.30,415.35 417.60,433.00 419.80,425.80 423.10,426.35 425.10,421.40 426.40,427.45 429.15,407.65 431.35,408.75 432.45,430.20 434.65,422.50 436.85,423.05 438.50,414.25 441.25,424.15 444.55,403.25 446.20,406.55 447.85,423.05 449.50,425.25" fill="none" stroke="#b1a4f5" stroke-width="1.4" stroke-linejoin="round" stroke-linecap="butt"/>
<polyline points="270.80,469.80 274.30,469.20 277.70,471.50 282.40,466.90 285.00,465.60 293.00,464.00 301.00,460.80 309.00,458.40 317.00,456.80 325.00,455.20 333.00,454.10 341.00,454.00 349.00,453.30 357.00,452.50 365.00,451.20 370.00,449.50 375.00,448.80 380.00,448.00 385.00,447.50 390.00,447.00 395.00,446.80 405.00,446.30 420.00,445.90 435.00,445.50 449.50,445.00" fill="none" stroke="#f8a16a" stroke-width="1.5" stroke-linejoin="round" stroke-linecap="butt"/>
<polyline points="270.80,470.90 274.30,468.60 277.70,470.90 282.40,466.30 285.00,464.00 301.00,459.20 309.00,457.30 317.00,456.00 333.00,453.60 349.00,452.00 357.00,450.50 365.00,448.80 370.00,447.50 375.00,447.00 380.00,446.20 385.00,445.80 390.00,445.50 395.00,445.20 405.00,444.80 420.00,444.50 435.00,443.90 449.50,443.40" fill="none" stroke="#a6bff7" stroke-width="1.5" stroke-linejoin="round" stroke-linecap="butt"/>
<polyline points="270.80,468.60 271.90,471.50 274.30,467.50 277.20,472.10 280.00,468.60 282.90,461.10 285.00,461.60 288.20,462.40 292.20,459.20 296.20,462.40 299.40,453.60 302.60,454.40 305.00,452.00 307.40,458.40 309.80,448.00 311.40,455.20 313.80,444.80 316.20,448.80 318.60,447.20 321.00,443.20 324.20,449.60 326.60,446.40 329.80,452.80 333.80,454.40 336.20,452.00 340.20,447.20 344.20,448.00 346.60,445.60 349.00,450.40 352.20,448.80 355.40,444.00 358.60,446.40 361.00,444.80 365.00,445.60 368.00,444.50 372.00,442.50 375.00,442.50 380.00,441.30 385.00,441.60 390.00,441.20 395.00,441.40 400.00,441.10 402.00,440.56 403.50,441.62 405.00,440.82 406.50,441.56 408.00,440.73 409.50,441.79 411.00,440.35 412.50,441.91 414.00,440.33 415.50,441.85 417.00,439.16 418.50,440.37 420.00,440.64 421.50,442.16 423.00,440.40 424.50,441.68 426.00,440.80 427.50,442.26 429.00,440.76 430.50,441.82 432.00,441.08 433.50,441.54 435.00,440.99 436.50,441.73 438.00,440.42 439.50,441.59 441.00,440.55 442.50,440.55 444.00,438.84 445.50,441.97 447.00,440.81 448.50,441.80" fill="none" stroke="#e686ba" stroke-width="1.2" stroke-linejoin="round" stroke-linecap="butt"/>
<polygon points="375.00,438.50 376.00,440.57 378.29,440.40 377.00,442.30 378.29,444.20 376.00,444.03 375.00,446.10 374.00,444.03 371.71,444.20 373.00,442.30 371.71,440.40 374.00,440.57" fill="#e500e5"/>
<rect x="354.00" y="460.50" width="100.50" height="24.50" rx="1.6" ry="1.6" fill="#fff" fill-opacity="0.8" stroke="#dadada" stroke-width="0.9"/>
<line x1="356.60" y1="466.20" x2="372.00" y2="466.20" stroke="#b1a4f5" stroke-width="1.5"/>
<text x="377.50" y="469.10" class="t">MAGST</text>
<line x1="356.60" y1="477.20" x2="372.00" y2="477.20" stroke="#e686ba" stroke-width="1.5"/>
<text x="377.50" y="480.10" class="t"><tspan font-style="italic">T</tspan><tspan font-style="italic" font-size="6.6" dy="2">za</tspan></text>
<line x1="418.20" y1="466.20" x2="433.60" y2="466.20" stroke="#a6bff7" stroke-width="1.5"/>
<text x="439.10" y="469.10" class="t"><tspan font-style="italic">T</tspan><tspan font-size="6.6" dy="2">15</tspan></text>
<line x1="418.20" y1="477.20" x2="433.60" y2="477.20" stroke="#f8a16a" stroke-width="1.5"/>
<text x="439.10" y="480.10" class="t"><tspan font-style="italic">T</tspan><tspan font-size="6.6" dy="2">20</tspan></text>
<line x1="50.4" y1="506.4" x2="246.3" y2="506.4" stroke="#a0a0a0" stroke-width="0.5" stroke-dasharray="3.6,1.5"/>
<polyline points="59.50,583.00 61.00,572.00 63.00,569.50 65.50,567.00 67.50,572.50 71.00,555.50 73.00,557.50 75.00,555.50 77.50,558.50 80.00,555.50 81.80,551.50 83.50,565.50 85.50,560.00 88.00,569.00 90.00,558.00 92.50,567.00 94.50,558.00 97.00,547.50 100.00,563.00 102.00,562.00 104.50,552.50 109.00,567.50 113.00,545.50 115.00,557.00 119.00,550.50 124.00,566.00 128.00,543.00 130.00,554.00 134.50,544.00 139.00,564.00 143.00,541.50 145.00,550.50 149.50,538.50 151.50,541.00 154.00,552.50 157.00,534.50 160.00,542.00 164.00,533.00 169.00,547.50 172.50,534.00 175.00,540.50 179.00,526.50 181.50,533.00 183.50,544.00 188.00,526.00 190.00,533.00 194.40,522.60 196.05,526.45 197.15,524.80 198.80,534.70 202.65,524.80 204.30,528.65 206.50,523.70 209.25,518.75 212.00,520.40 213.65,533.05 217.50,518.75 219.15,522.60 223.55,518.20 225.20,516.55 227.40,519.30 229.05,527.55 232.35,517.10 234.55,519.30 237.85,515.45" fill="none" stroke="#b1a4f5" stroke-width="1.5" stroke-linejoin="round" stroke-linecap="butt"/>
<polyline points="59.50,583.50 61.00,575.00 62.50,572.00 65.00,570.50 66.00,570.00 67.50,573.00 69.00,571.00 71.00,564.50 72.50,562.50 73.50,561.00 75.50,559.50 77.50,561.00 79.50,558.50 81.50,557.50 83.50,564.00 85.00,563.50 86.50,561.00 88.00,567.50 90.00,561.50 92.50,566.50 94.50,561.00 96.00,561.50 97.50,554.50 99.50,561.00 102.00,561.20 104.50,555.80 106.50,560.00 109.00,565.00 113.00,550.50 115.00,557.00 117.50,554.50 119.50,553.50 121.50,555.50 124.00,562.50 128.00,548.50 130.00,554.50 134.50,548.50 137.50,552.50 139.00,561.00 142.50,546.50 145.00,552.00 149.50,543.70 151.50,543.50 154.00,550.50 157.00,540.00 160.00,544.50 163.00,541.00 164.50,539.50 166.50,541.00 169.00,547.00 172.50,538.00 175.00,542.00 179.00,533.50 181.00,535.50 183.50,542.50 187.50,532.00 190.00,535.60 194.40,529.75 196.60,530.30 198.80,534.70 202.65,529.75 204.30,531.40 207.60,527.00 209.80,525.35 212.00,525.90 213.65,531.40 217.50,524.80 219.70,527.00 224.10,522.60 226.30,523.15 229.05,527.55 232.90,522.60 234.55,522.60 237.85,520.40" fill="none" stroke="#2e2e2e" stroke-width="1.5" stroke-linejoin="round" stroke-linecap="butt" stroke-opacity="0.72"/>
<rect x="204.20" y="553.50" width="38.60" height="30.50" rx="1.6" ry="1.6" fill="#fff" fill-opacity="0.8" stroke="#dadada" stroke-width="0.9"/>
<line x1="206.50" y1="561.30" x2="222.50" y2="561.30" stroke="#b1a4f5" stroke-width="1.5"/>
<text x="228.00" y="564.20" class="t"><tspan font-style="italic" font-size="9.6">τ̄</tspan><tspan font-size="6.4" dy="-3.2">0</tspan><tspan font-size="6.4" dx="-3.6" dy="6">10</tspan></text>
<line x1="206.50" y1="575.20" x2="222.50" y2="575.20" stroke="#545454" stroke-width="1.5"/>
<text x="228.00" y="578.10" class="t"><tspan font-style="italic" font-size="9.6">τ̄</tspan><tspan font-size="6.4" dy="-3.2">0</tspan><tspan font-size="6.4" dx="-3.6" dy="6">20</tspan></text>
<line x1="262.4" y1="538.4" x2="457.6" y2="538.4" stroke="#a0a0a0" stroke-width="0.5" stroke-dasharray="3.6,1.5"/>
<polyline points="271.00,580.40 274.00,561.80 275.80,577.40 283.00,557.00 285.40,560.60 293.80,557.60 295.60,561.80 299.80,551.60 303.40,549.80 308.80,563.00 311.20,545.60 314.20,557.00 316.00,545.60 319.00,545.00 323.20,549.80 325.00,545.20 328.40,546.60 331.90,550.10 334.00,555.00 336.10,550.80 339.60,545.20 343.10,546.60 346.60,547.30 349.40,545.90 352.20,548.00 354.30,542.40 357.80,544.50 361.30,542.40 364.80,543.10 369.00,538.90 373.20,540.70 377.40,540.30 381.60,539.60 385.10,537.50 387.20,538.60 390.00,538.20 393.40,538.50 396.20,538.80 399.70,535.30 402.50,538.10 406.00,537.10 409.50,536.70 414.40,532.50 417.90,537.10 421.40,534.60 425.60,533.90 429.50,527.90 433.30,534.60 438.20,532.50 441.70,533.90 445.00,524.10 446.60,526.20 449.10,533.90" fill="none" stroke="#b1a4f5" stroke-width="1.5" stroke-linejoin="round" stroke-linecap="butt"/>
<polyline points="271.00,576.20 273.40,564.20 274.40,562.40 275.80,572.60 278.20,569.60 280.60,565.40 283.00,560.60 285.40,561.80 287.20,562.40 289.00,561.50 292.00,563.60 293.80,560.00 295.60,561.80 297.40,559.40 299.80,555.20 302.20,554.00 304.00,553.40 306.40,555.20 308.80,562.40 311.20,550.40 314.20,557.00 316.60,549.80 319.60,548.60 322.10,552.20 324.90,548.70 328.40,549.40 330.50,552.90 332.60,550.80 334.00,553.60 336.10,551.50 338.20,554.30 340.30,548.70 343.10,548.70 345.90,550.10 348.00,548.00 350.10,550.10 352.90,550.10 355.00,545.90 359.20,546.60 362.00,545.20 364.80,545.90 369.00,543.80 373.20,543.50 377.40,543.10 381.60,542.40 385.00,541.00 389.20,541.90 393.40,540.90 396.20,541.30 399.00,539.10 401.80,540.90 406.00,540.50 410.20,539.50 414.40,537.70 417.20,539.90 421.40,539.10 425.60,538.50 429.80,535.70 433.30,538.50 438.20,537.10 441.70,538.10 444.50,533.20 446.60,534.30 449.40,538.10" fill="none" stroke="#2e2e2e" stroke-width="1.5" stroke-linejoin="round" stroke-linecap="butt" stroke-opacity="0.72"/>
<rect x="415.80" y="553.50" width="38.70" height="30.50" rx="1.6" ry="1.6" fill="#fff" fill-opacity="0.8" stroke="#dadada" stroke-width="0.9"/>
<line x1="418.20" y1="561.30" x2="434.20" y2="561.30" stroke="#b1a4f5" stroke-width="1.5"/>
<text x="439.60" y="564.20" class="t"><tspan font-style="italic" font-size="9.6">τ̄</tspan><tspan font-size="6.4" dy="-3.2">0</tspan><tspan font-size="6.4" dx="-3.6" dy="6">10</tspan></text>
<line x1="418.20" y1="575.20" x2="434.20" y2="575.20" stroke="#545454" stroke-width="1.5"/>
<text x="439.60" y="578.10" class="t"><tspan font-style="italic" font-size="9.6">τ̄</tspan><tspan font-size="6.4" dy="-3.2">0</tspan><tspan font-size="6.4" dx="-3.6" dy="6">20</tspan></text>
</svg></body></html>
